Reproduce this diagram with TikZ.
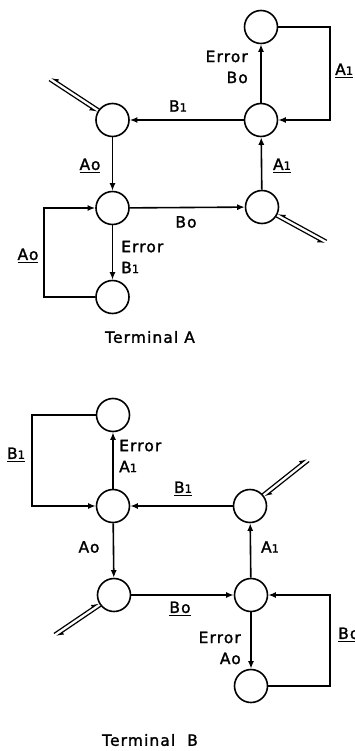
\documentclass[tikz,border=0pt]{standalone}
\usepackage{fontspec}
\setmainfont{DejaVu Sans}[LetterSpace=7,FakeBold=1.6]
\usetikzlibrary{arrows.meta,calc}
\newcommand\smone{{\fontsize{11.5pt}{11.5pt}\selectfont 1}}
\newcommand\ulbl[1]{\setbox0=\hbox{#1}\rlap{\copy0}\rule[-3.5pt]{\wd0}{1.4pt}}
\newcommand\dblarrow[5]{%
  \coordinate (dn) at ($(#1)!17pt!(#2)$);
  \draw[dbl,-{Latex[length=6pt,width=6pt,#5]}] ($(dn)!1.9pt!#3:(#2)$) -- ($(#2)!1.9pt!#4:(dn)$);
  \draw[dbl,-{Latex[length=6pt,width=6pt,#5]}] ($(#2)!1.9pt!#3:(dn)$) -- ($(dn)!1.9pt!#4:(#2)$);
}
\tikzset{
  st/.style={circle,draw,line width=1.6pt,minimum size=33pt,inner sep=0pt},
  arr/.style={line width=1.6pt,-{Latex[length=7.5pt,width=6pt]}},
  dbl/.style={line width=1.2pt},
  lbl/.style={inner sep=0pt,font=\fontsize{15.5pt}{21pt}\selectfont}
}
\begin{document}
\begin{tikzpicture}[x=1pt,y=-1pt]
\useasboundingbox (0,0) rectangle (354,751);
% ---------------- Terminal A ----------------
\node[st] (aTE) at (261,27) {};
\node[st] (aR)  at (261,120) {};
\node[st] (aL)  at (112.5,120) {};
\node[st] (aLM) at (112.5,208) {};
\node[st] (aRB) at (262,207) {};
\node[st] (aBE) at (112.5,297) {};
\draw[arr] (aR) -- (aL);
\draw[arr] (aL) -- (aLM);
\draw[arr] (aLM) -- (aRB);
\draw[arr] (aRB) -- (aR);
\draw[arr] (aR) -- (aTE);
\draw[arr] (aLM) -- (aBE);
\draw[arr] (aTE.east) -- ++(51.5,0) |- (aR.east);
\draw[arr] (aBE.west) -- ++(-51.5,0) |- (aLM.west);
\coordinate (faA1) at (50,79);
\coordinate (faA2) at (326,242);
\dblarrow{aL}{faA1}{-90}{90}{right}
\dblarrow{aRB}{faA2}{-90}{90}{right}
\node[lbl] (la1) at (178,106) {B\smone};
\node[lbl,align=right,anchor=east] (la2) at (248,67) {Error\\Bo};
\node[lbl] (la3) at (90,166) {\ulbl{Ao}};
\node[lbl] (la4) at (282,166) {\ulbl{A\smone}};
\node[lbl,anchor=west] (la5) at (335,71) {\ulbl{A\smone}};
\node[lbl] (la6) at (186,222) {Bo};
\node[lbl,align=left,anchor=west] (la7) at (121,257) {Error\\B\smone};
\node[lbl] (la8) at (28,256) {\ulbl{Ao}};
\node[lbl] (la9) at (150,337) {Terminal A};
% ---------------- Terminal B ----------------
\node[st] (bTE) at (113,415) {};
\node[st] (bLM) at (113,506) {};
\node[st] (bRM) at (250,506) {};
\node[st] (bLB) at (114,595) {};
\node[st] (bRB) at (251,595) {};
\node[st] (bBE) at (251,686) {};
\draw[arr] (bRM) -- (bLM);
\draw[arr] (bLM) -- (bTE);
\draw[arr] (bLM) -- (bLB);
\draw[arr] (bRB) -- (bRM);
\draw[arr] (bLB) -- (bRB);
\draw[arr] (bRB) -- (bBE);
\draw[arr] (bTE.west) -- ++(-63.5,0) |- (bLM.west);
\draw[arr] (bBE.east) -- ++(61.5,0) |- (bRB.east);
\coordinate (fbB1) at (308,460);
\coordinate (fbB2) at (55,635);
\dblarrow{bRM}{fbB1}{90}{-90}{left}
\dblarrow{bLB}{fbB2}{90}{-90}{left}
\node[lbl] (lb1) at (16,455) {\ulbl{B\smone}};
\node[lbl,align=left,anchor=west] (lb2) at (119,456) {Error\\A\smone};
\node[lbl] (lb3) at (183,489) {\ulbl{B\smone}};
\node[lbl] (lb4) at (89,547) {Ao};
\node[lbl] (lb5) at (270,547) {A\smone};
\node[lbl] (lb6) at (180,609) {\ulbl{Bo}};
\node[lbl,align=right,anchor=east] (lb7) at (241,648) {Error\\Ao};
\node[lbl,anchor=west] (lb8) at (338,635) {\ulbl{Bo}};
\node[lbl] (lb9) at (150,740) {Terminal\hspace{12pt}B};
\end{tikzpicture}
\end{document}
